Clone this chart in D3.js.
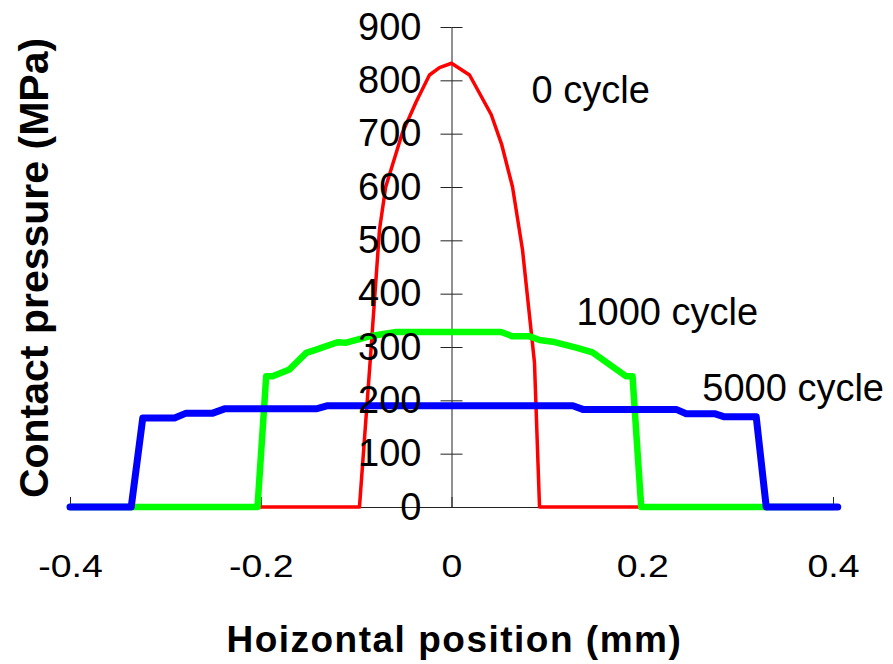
<!DOCTYPE html>
<html>
<head>
<meta charset="utf-8">
<script src="https://cdn.jsdelivr.net/npm/d3@7"></script>
<style>
  body { margin: 0; background: #fff; }
  svg { display: block; font-family: "Liberation Sans", Arial, sans-serif; }
</style>
</head>
<body>
<div id="chart"></div>
<script>
//data (x in mm, y in MPa)
let cycle0X = [-0.4, -0.0965, -0.085, -0.0755, -0.069, -0.0514, -0.037, -0.0231, -0.0126, 0, 0.0189, 0.0416, 0.0524, 0.064, 0.0744, 0.087, 0.0923, 0.4];
let cycle0Y = [0, 0, 280, 520, 600, 702, 760, 810, 824, 832, 810, 736, 681, 600, 483, 271, 0, 0];

let cycle1000X = [-0.4, -0.2034, -0.1943, -0.1877, -0.1699, -0.1523, -0.1419, -0.1195, -0.1104, -0.086, -0.058, 0.0521, 0.064, 0.0818, 0.0923, 0.1059, 0.1307, 0.1478, 0.1832, 0.1898, 0.1989, 0.4];
let cycle1000Y = [0, 0, 245, 245, 258, 289, 295, 309, 308, 320, 328, 328, 320, 320, 313, 310, 299, 290, 245, 245, 0, 0];

let cycle5000X = [-0.4, -0.3358, -0.3237, -0.2904, -0.2782, -0.2503, -0.238, -0.1419, -0.1297, 0.1272, 0.1377, 0.2356, 0.2461, 0.2758, 0.2862, 0.3195, 0.33, 0.405];
let cycle5000Y = [0, 0, 167, 167, 176, 176, 184, 184, 190, 190, 183, 183, 175, 175, 169, 169, 0, 0];

let seriesNames = ["0 cycle", "1000 cycle", "5000 cycle"];
let xTicks = [-0.4, -0.2, 0, 0.2, 0.4];
let yTicks = [0, 100, 200, 300, 400, 500, 600, 700, 800, 900];

//where the series names sit, in data units
let labelX = [0.084, 0.131, 0.263];
let labelY = [758, 342, 198];

//define margin
let margin = { top: 27, right: 60, bottom: 157, left: 70 };

//Set graph size
let svgWidth = 893;
let svgHeight = 664;
let graphWidth = svgWidth - margin.left - margin.right;
let graphHeight = svgHeight - margin.top - margin.bottom;

//scales
let x = d3.scaleLinear().domain([-0.4, 0.4]).range([0, graphWidth]);
let y = d3.scaleLinear().domain([0, 900]).range([graphHeight, 0]);

let svg = d3.select("#chart")
    .append("svg")
    .attr("width", svgWidth)
    .attr("height", svgHeight)
    .append("g")
    .attr("transform", "translate(" + margin.left + "," + margin.top + ")");

//x axis (ticks pointing up, crossing at y = 0)
let xAxis = d3.axisBottom(x).tickValues(xTicks).tickSizeInner(-10).tickSizeOuter(0)
    .tickPadding(47).tickFormat(function(d) { return String(d) });
let xg = svg.append("g")
    .attr("transform", "translate(0," + y(0) + ")")
    .call(xAxis);
xg.selectAll("path, line").attr("stroke", "#222");
xg.selectAll("text")
    .attr("font-size", "32px")
    .attr("font-family", "Liberation Sans, Arial, sans-serif")
    .attr("fill", "#000")
    .attr("transform", "scale(1.17,1)");

//y axis line + cross ticks (crossing at x = 0)
let yAxisLeft = d3.axisLeft(y).tickValues(yTicks).tickSize(11).tickSizeOuter(0).tickFormat("");
let yAxisRight = d3.axisRight(y).tickValues(yTicks).tickSize(11).tickSizeOuter(0).tickFormat("");
let yg = svg.append("g").attr("transform", "translate(" + x(0) + ",0)").call(yAxisLeft);
let yg2 = svg.append("g").attr("transform", "translate(" + x(0) + ",0)").call(yAxisRight);
yg2.select(".domain").remove();
yg.selectAll("path, line").attr("stroke", "#222");
yg2.selectAll("line").attr("stroke", "#222");

//lines
let series = [
    { x: cycle0X, y: cycle0Y, color: "#ff0000", width: 3.5 },
    { x: cycle1000X, y: cycle1000Y, color: "#00ff00", width: 6.5 },
    { x: cycle5000X, y: cycle5000Y, color: "#0000ff", width: 7 }
];

let line = d3.line()
    .x(function(d) { return x(d[0]) })
    .y(function(d) { return y(d[1]) });

series.forEach(function(s) {
    let pts = s.x.map(function(v, i) { return [v, s.y[i]] });
    svg.append("path")
        .attr("d", line(pts))
        .style("fill", "none")
        .style("stroke", s.color)
        .style("stroke-width", s.width)
        .style("stroke-linejoin", "round")
        .style("stroke-linecap", "round");
});

//y tick labels drawn above the lines
let yLabels = d3.axisLeft(y).tickValues(yTicks).tickSize(0).tickPadding(30);
let yl = svg.append("g").attr("transform", "translate(" + x(0) + ",0)").call(yLabels);
yl.select(".domain").remove();
yl.selectAll("text")
    .attr("font-size", "38px")
    .attr("font-family", "Liberation Sans, Arial, sans-serif")
    .attr("fill", "#000");

//series names
svg.selectAll("text.series")
    .data(seriesNames)
    .enter()
    .append("text")
    .attr("class", "series")
    .attr("x", function(d, i) { return x(labelX[i]) })
    .attr("y", function(d, i) { return y(labelY[i]) })
    .attr("font-size", "38px")
    .attr("fill", "#000")
    .text(function(d) { return d });

//axis titles
svg.append("text")
    .attr("x", x(0.003))
    .attr("y", graphHeight + 145)
    .attr("text-anchor", "middle")
    .attr("font-size", "37px")
    .attr("font-weight", "bold")
    .attr("letter-spacing", "1.5px")
    .text("Hoizontal position (mm)");

svg.append("text")
    .attr("transform", "translate(" + (48 - margin.left) + "," + (268 - margin.top) + ") rotate(-90)")
    .attr("text-anchor", "middle")
    .attr("font-size", "41px")
    .attr("font-weight", "bold")
    .text("Contact pressure (MPa)");
</script>
</body>
</html>
